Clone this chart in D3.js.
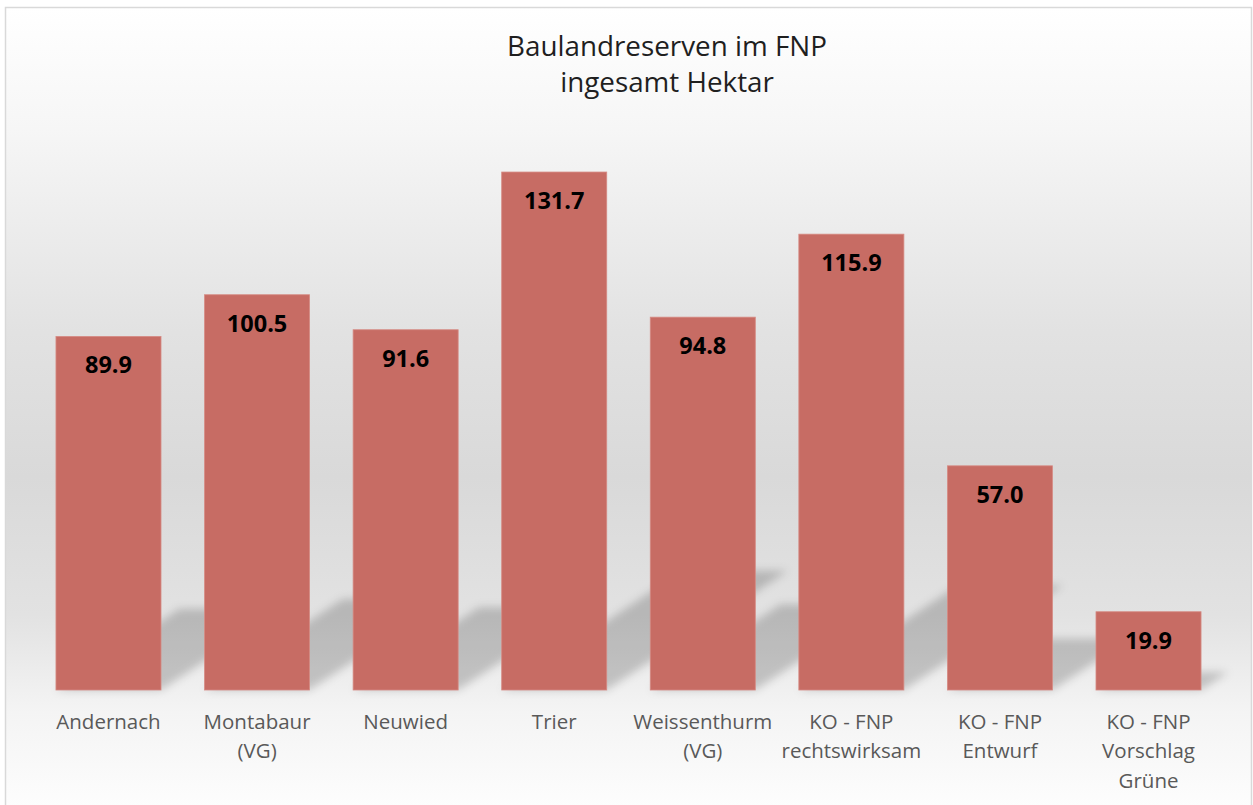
<!DOCTYPE html>
<html>
<head>
<meta charset="utf-8">
<script src="https://cdn.jsdelivr.net/npm/d3@7"></script>
<style>
  body { margin: 0; background: #fff; }
  svg { display: block; font-family: "Open Sans", Lato, sans-serif; }
</style>
</head>
<body>
<div id="chart"></div>
<script>
// chart data
var categories = ["Andernach", "Montabaur\n(VG)", "Neuwied", "Trier", "Weissenthurm\n(VG)",
                  "KO - FNP\nrechtswirksam", "KO - FNP\nEntwurf", "KO - FNP\nVorschlag\nGrüne"];
var values = [89.9, 100.5, 91.6, 131.7, 94.8, 115.9, 57.0, 19.9];
var titleLines = ["Baulandreserven im FNP", "ingesamt Hektar"];

var W = 1253, H = 805;
var base = 690;

var svg = d3.select("#chart").append("svg")
    .attr("width", W)
    .attr("height", H);

var defs = svg.append("defs");

// background gradient (white -> grey -> white)
var grad = defs.append("linearGradient")
    .attr("id", "bg")
    .attr("x1", 0).attr("y1", 0).attr("x2", 0).attr("y2", 1);
[[0, "#ffffff"], [0.15, "#f6f6f6"], [0.4, "#e2e2e2"], [0.58, "#d9d9d9"],
 [0.75, "#e2e2e2"], [0.87, "#f4f4f4"], [1, "#fefefe"]].forEach(function(s) {
  grad.append("stop").attr("offset", s[0]).attr("stop-color", s[1]);
});

defs.append("filter")
    .attr("id", "blur")
    .attr("x", "-50%").attr("y", "-50%").attr("width", "200%").attr("height", "200%")
  .append("feGaussianBlur")
    .attr("stdDeviation", 4);

svg.append("rect")
    .attr("x", 5.5).attr("y", 7.5)
    .attr("width", 1246).attr("height", 810)
    .attr("fill", "url(#bg)")
    .attr("stroke", "#d9d9d9")
    .attr("stroke-width", 1.5);

// scales
var x = d3.scaleBand()
    .domain(categories)
    .range([34.2, 1222.8])
    .paddingInner(0.293)
    .paddingOuter(0.1465);

var y = d3.scaleLinear()
    .domain([0, 140])
    .range([base, base - 140 * 3.933]);

// perspective shadows (skewed and squashed copy of each bar)
svg.append("g")
  .selectAll("polygon")
  .data(values)
  .enter()
  .append("polygon")
  .attr("points", function(d, i) {
    var x0 = x(categories[i]), x1 = x0 + x.bandwidth();
    var h = y(0) - y(d);
    var t = 0.23 * h, s = 1.52 * t;
    return [[x0, base], [x1, base], [x1 + s, base - t], [x0 + s, base - t]].join(" ");
  })
  .attr("fill", "#000")
  .attr("fill-opacity", 0.19)
  .attr("filter", "url(#blur)");

// bars
svg.append("g")
  .selectAll("rect")
  .data(values)
  .enter()
  .append("rect")
  .attr("x", (d, i) => x(categories[i]))
  .attr("y", d => y(d))
  .attr("width", x.bandwidth())
  .attr("height", d => y(0) - y(d))
  .attr("fill", "#c76c64")
  .attr("stroke", "#d68b84")
  .attr("stroke-width", 0.8);

// value labels
svg.append("g")
  .selectAll("text")
  .data(values)
  .enter()
  .append("text")
  .attr("x", (d, i) => x(categories[i]) + x.bandwidth() / 2)
  .attr("y", d => y(d) + 37)
  .attr("text-anchor", "middle")
  .style("font-size", "23.5px")
  .style("font-weight", "bold")
  .style("fill", "#000")
  .text(d => d.toFixed(1));

// category labels
var xAxis = svg.append("g");
categories.forEach(function(c) {
  var t = xAxis.append("text")
      .attr("x", x(c) + x.bandwidth() / 2)
      .attr("y", 728.5)
      .attr("text-anchor", "middle")
      .style("font-size", "20.5px")
      .style("fill", "#595959");
  c.split("\n").forEach(function(line, j) {
    t.append("tspan")
      .attr("x", x(c) + x.bandwidth() / 2)
      .attr("dy", j === 0 ? 0 : 29.5)
      .text(line);
  });
});

// title
svg.append("g")
  .selectAll("text")
  .data(titleLines)
  .enter()
  .append("text")
  .attr("x", 667)
  .attr("y", (d, i) => 56 + i * 36)
  .attr("text-anchor", "middle")
  .style("font-size", "27.8px")
  .style("fill", "#1f1f1f")
  .text(d => d);
</script>
</body>
</html>
